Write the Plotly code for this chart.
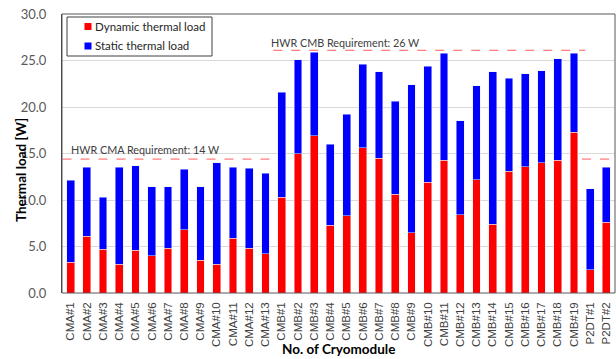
import plotly.graph_objects as go

categories = [f"CMA#{i}" for i in range(1, 14)] + [f"CMB#{i}" for i in range(1, 20)] + ["P2DT#1", "P2DT#2"]
totals = [12.1, 13.5, 10.3, 13.5, 13.7, 11.4, 11.4, 13.3, 11.4, 14.0, 13.5, 13.4, 12.9,
          21.6, 25.1, 25.9, 16.0, 19.2, 24.6, 23.8, 20.6, 22.4, 24.4, 25.8, 18.5, 22.3,
          23.8, 23.1, 23.6, 23.9, 25.2, 25.8, 11.2, 13.5]
dynamic = [3.3, 6.1, 4.7, 3.1, 4.6, 4.0, 4.8, 6.8, 3.5, 3.1, 5.9, 4.8, 4.2,
           10.3, 15.0, 16.9, 7.3, 8.3, 15.6, 14.5, 10.6, 6.5, 11.9, 14.3, 8.4, 12.2,
           7.4, 13.1, 13.6, 14.0, 14.3, 17.3, 2.5, 7.6]
static = [round(t - d, 2) for t, d in zip(totals, dynamic)]

series_names = ["Dynamic thermal load", "Static thermal load"]
series_colors = ["#ff0000", "#0000ff"]

req_cma = 14.4
req_cmb = 26.1
req_labels = ["HWR CMA Requirement: 14 W", "HWR CMB Requirement: 26 W"]

W, H = 616, 359
ML, MR, MT, MB = 62, 1, 14, 66
PW, PH = W - ML - MR, H - MT - MB


def px(xp):
    return (xp - ML) / PW


def py(yp):
    return (H - MB - yp) / PH


fig = go.Figure()
for vals, nm, col in zip([dynamic, static], series_names, series_colors):
    fig.add_bar(x=categories, y=vals, name=nm, marker_color=col, showlegend=False)

dash_col = "#ff5b5b"
fig.add_shape(type="line", xref="x", yref="y", x0=-0.5, x1=12.35, y0=req_cma, y1=req_cma,
              line=dict(color=dash_col, width=1, dash="dash"))
fig.add_shape(type="line", xref="x", yref="y", x0=12.48, x1=31.7, y0=req_cmb, y1=req_cmb,
              line=dict(color=dash_col, width=1, dash="dash"))
fig.add_shape(type="line", xref="x", yref="y", x0=31.5, x1=33.5, y0=req_cma, y1=req_cma,
              line=dict(color=dash_col, width=1, dash="dash"))
# plot area border
fig.add_shape(type="rect", xref="paper", yref="paper", x0=0, x1=1, y0=0, y1=1,
              line=dict(color="#595959", width=1), layer="above")

# legend box (drawn manually to match the reference geometry)
fig.add_shape(type="rect", xref="paper", yref="paper", x0=px(67), x1=px(212), y0=py(56), y1=py(17),
              line=dict(color="#404040", width=1), fillcolor="white", layer="above")
for i, (nm, col) in enumerate(zip(series_names, series_colors)):
    yc = 26.5 + 19.5 * i
    fig.add_shape(type="rect", xref="paper", yref="paper", x0=px(84.5), x1=px(91.5),
                  y0=py(yc + 3.5), y1=py(yc - 3.5), line=dict(width=0), fillcolor=col, layer="above")
    fig.add_annotation(x=px(93), xref="paper", y=py(yc), yref="paper", text=nm, showarrow=False,
                       xanchor="left", yanchor="middle",
                       font=dict(size=11.5, color="#262626", family="Lato"))

fig.add_annotation(x=px(71), xref="paper", y=15.4, yref="y", text=req_labels[0], showarrow=False,
                   xanchor="left", yanchor="middle", xshift=-2,
                   font=dict(size=10.8, color="#404040", family="Lato"))
fig.add_annotation(x=px(271), xref="paper", y=26.9, yref="y", text=req_labels[1], showarrow=False,
                   xanchor="left", yanchor="middle", xshift=-2,
                   font=dict(size=10.8, color="#404040", family="Lato"))

# axis titles placed as in the reference
fig.add_annotation(x=px(21), xref="paper", y=py(170), yref="paper", text="<b>Thermal load [W]</b>",
                   showarrow=False, textangle=-90, xanchor="center", yanchor="middle",
                   font=dict(size=13.5, color="#000000", family="Lato"))
fig.add_annotation(x=px(338), xref="paper", y=py(359), yref="paper", text="<b>No. of Cryomodule</b>",
                   showarrow=False, xanchor="center", yanchor="bottom",
                   font=dict(size=13.5, color="#000000", family="Lato"))

fig.update_layout(
    barmode="stack",
    bargap=0.52,
    width=W, height=H,
    margin=dict(l=ML, r=MR, t=MT, b=MB, autoexpand=False),
    paper_bgcolor="white", plot_bgcolor="white",
    font=dict(family="Lato, Liberation Sans, Arial", color="#404040"),
    showlegend=False,
)
fig.update_yaxes(range=[0, 30], dtick=5, tickformat=".1f", showgrid=True, gridcolor="#d9d9d9",
                 showline=True, linecolor="#404040", ticks="", ticklabelstandoff=12,
                 tickfont=dict(size=13, color="#595959", family="Lato"),
                 zeroline=False, automargin=False)
fig.update_xaxes(tickangle=-90, tickfont=dict(size=11.5, color="#404040", family="Liberation Sans"),
                 showline=False, ticks="", ticklabelstandoff=6, automargin=False)

fig.write_html("out.html")
